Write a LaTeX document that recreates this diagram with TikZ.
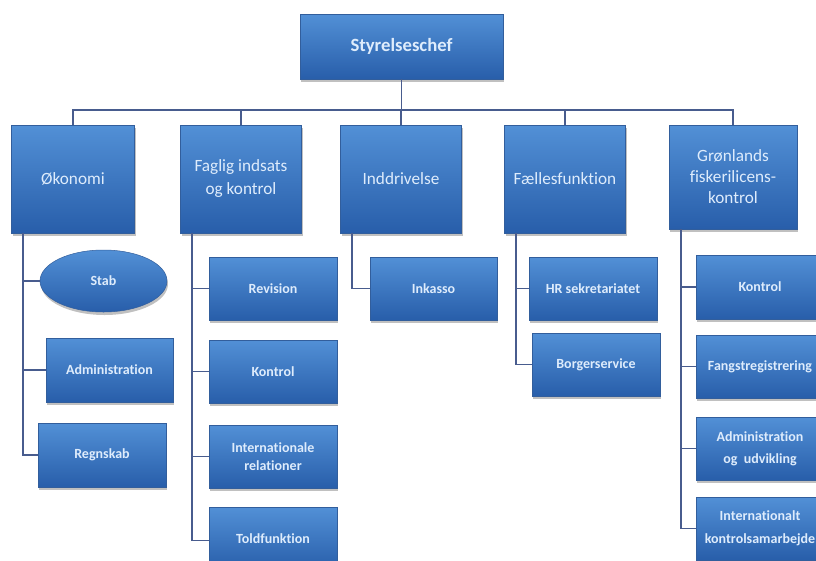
\documentclass[tikz,border=0pt]{standalone}
\usepackage{fontspec}
\setmainfont{Carlito}[Ligatures={NoCommon}]
\usetikzlibrary{shapes.geometric,shadows}
\definecolor{boxtop}{RGB}{82,144,214}
\definecolor{boxbot}{RGB}{40,94,170}
\definecolor{boxedge}{RGB}{50,94,156}
\definecolor{txtc}{RGB}{222,236,252}
\definecolor{linec}{RGB}{72,92,142}
\tikzset{
  orgbox/.style={rectangle, draw=boxedge, line width=0.5pt, top color=boxtop, bottom color=boxbot,
    text=txtc, align=center, inner sep=0pt,
    drop shadow={shadow xshift=1pt, shadow yshift=-3pt, opacity=0.35, fill=black!70}},
  topbox/.style={orgbox, minimum width=203pt, minimum height=65pt, font=\fontsize{18.7}{22}\selectfont\bfseries},
  deptbox/.style={orgbox, minimum width=121pt, minimum height=108pt, font=\fontsize{17.2}{23}\selectfont},
  unitbox/.style={orgbox, minimum width=128pt, minimum height=63pt, font=\fontsize{14}{20}\selectfont\bfseries},
  unitell/.style={unitbox, ellipse, minimum width=127pt, minimum height=62pt},
  conn/.style={draw=linec, line width=1.6pt}
}
\begin{document}
\begin{tikzpicture}[x=1pt,y=-1pt]
\useasboundingbox (0,0) rectangle (816,560);
\clip (0,0) rectangle (816,560);
\fill[white] (0,0) rectangle (816,560);
% top
\node[topbox] (top) at (401.5,46.5) {Styrelseschef};
% departments
\node[deptbox, minimum width=123pt] (oko) at (73,179) {Økonomi};
\node[deptbox] (fag) at (241,179) {Faglig indsats\\og kontrol};
\node[deptbox] (ind) at (401,179) {Inddrivelse};
\node[deptbox] (fael) at (565,179) {Fællesfunktion};
\node[deptbox, minimum width=128pt, minimum height=104pt, font=\fontsize{17.2}{21}\selectfont] (gron) at (733,177) {Grønlands\\fiskerilicens-\\kontrol};
% units Økonomi
\node[unitell] (stab) at (103.5,281) {Stab};
\node[unitbox, minimum width=127pt, minimum height=64pt] (admin) at (109.5,370) {Administration};
\node[unitbox, minimum height=64pt] (regn) at (102,455) {Regnskab};
% units Faglig
\node[unitbox] (rev) at (273,288.5) {Revision};
\node[unitbox] (kontf) at (273,371.5) {Kontrol};
\node[unitbox, font=\fontsize{14}{18}\selectfont\bfseries] (intrel) at (273,456.5) {Internationale\\relationer};
\node[unitbox] (told) at (273,538.5) {Toldfunktion};
% units Inddrivelse
\node[unitbox, minimum width=127pt] (inka) at (433.5,288.5) {Inkasso};
% units Fællesfunktion
\node[unitbox] (hr) at (593,288.5) {HR sekretariatet};
\node[unitbox] (borg) at (596,364.5) {Borgerservice};
% units Grønland
\node[unitbox, minimum height=64pt] (kontg) at (760,287) {Kontrol};
\node[unitbox] (fang) at (760,366.5) {Fangstregistrering};
\node[unitbox, font=\fontsize{14}{22}\selectfont\bfseries] (advk) at (760,448.5) {Administration\\og~ udvikling};
\node[unitbox, font=\fontsize{14}{23}\selectfont\bfseries] (intk) at (760,528.5) {Internationalt\\kontrolsamarbejde};
% connectors top level
\draw[conn] (top.south) -- ++(0,31);
\draw[conn] (oko.north) -- ++(0,-15) -| (gron.north);
\draw[conn] (fag.north) -- ++(0,-15);
\draw[conn] (ind.north) -- ++(0,-15);
\draw[conn] (fael.north) -- ++(0,-15);
% children connectors
\draw[conn] ([xshift=12pt]oko.south west) |- (stab.west);
\draw[conn] ([xshift=12pt]oko.south west) |- (admin.west);
\draw[conn] ([xshift=12pt]oko.south west) |- (regn.west);
\draw[conn] ([xshift=12pt]fag.south west) |- (rev.west);
\draw[conn] ([xshift=12pt]fag.south west) |- (kontf.west);
\draw[conn] ([xshift=12pt]fag.south west) |- (intrel.west);
\draw[conn] ([xshift=12pt]fag.south west) |- ([yshift=-2pt]told.west);
\draw[conn] ([xshift=12pt]ind.south west) |- (inka.west);
\draw[conn] ([xshift=12pt]fael.south west) |- (hr.west);
\draw[conn] ([xshift=12pt]fael.south west) |- (borg.west);
\draw[conn] ([xshift=12pt]gron.south west) |- (kontg.west);
\draw[conn] ([xshift=12pt]gron.south west) |- (fang.west);
\draw[conn] ([xshift=12pt]gron.south west) |- (advk.west);
\draw[conn] ([xshift=12pt]gron.south west) |- (intk.west);
\end{tikzpicture}
\end{document}
